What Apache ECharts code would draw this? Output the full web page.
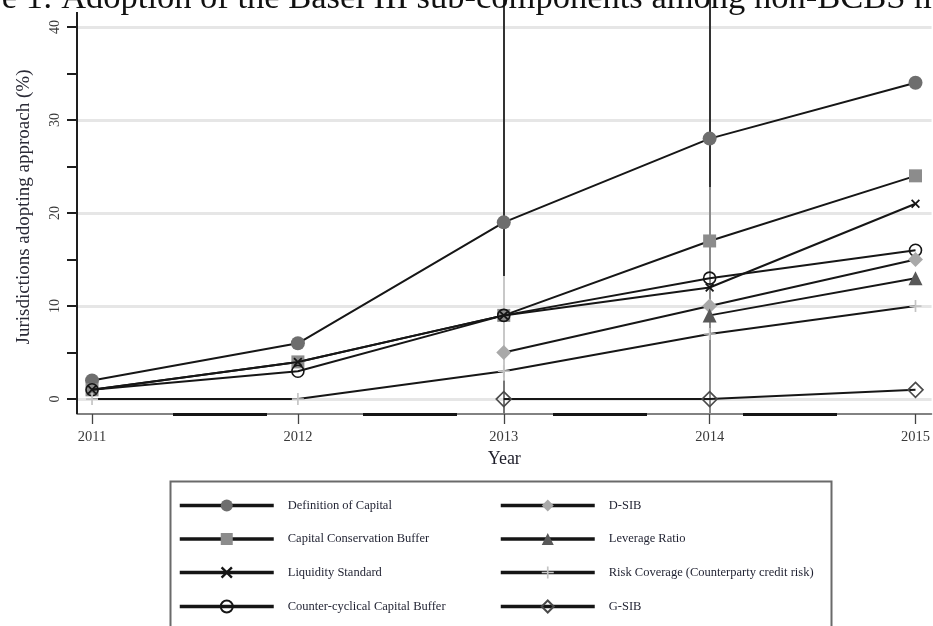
<!DOCTYPE html>
<html>
<head>
<meta charset="utf-8">
<style>html,body{margin:0;padding:0;background:#fff;}#chart{width:933px;height:626px;}</style>
<script src="https://cdn.jsdelivr.net/npm/echarts@6/dist/echarts.min.js"></script>
</head>
<body>
<div id="chart"></div>
<script>
// ---- data ----
const years = [2011, 2012, 2013, 2014, 2015];
const defCapital      = [2, 6, 19, 28, 34];
const capConsBuffer   = [1, 4, 9, 17, 24];
const liquidity       = [1, 4, 9, 12, 21];
const counterCyclical = [1, 3, 9, 13, 16];
const dSib            = [null, null, 5, 10, 15];
const leverage        = [null, null, null, 9, 13];
const riskCoverage    = [0, 0, 3, 7, 10];
const gSib            = [null, null, 0, 0, 1];
const yTickValues  = [0, 5, 10, 15, 20, 25, 30, 35, 40];
const yLabelValues = [0, 10, 20, 30, 40];
const gridValues   = [0, 10, 20, 30, 40];
const titleText = 'Figure 1: Adoption of the Basel III sub-components among non-BCBS members';
const xName = 'Year';
const yName = 'Jurisdictions adopting approach (%)';
// vertical scan-artifact lines in the source image: [year, fromValue, toValue, colour]
const artifactSegments = [
  [2013, 42.9, 13.2, '#333'], [2013, 13.2, 2, '#c8c8c8'], [2013, 2, -1.6, '#777'],
  [2014, 42.9, 22.8, '#333'], [2014, 22.8, -1.6, '#8a8a8a']
];

const X_MIN = 2010.927, X_MAX = 2015.078, Y_MIN = -1.6, Y_MAX = 42.9, Y_AXIS_TOP = 41.6;
const serif = 'Liberation Serif';

function pairs(vals) {
  const out = [];
  vals.forEach((v, i) => { if (v !== null) out.push([years[i], v]); });
  return out;
}

const PLUS = 'path://M4.3,0H5.7V4.3H10V5.7H5.7V10H4.3V5.7H0V4.3H4.3Z';
const CROSS = 'path://M0,1.4L1.4,0L5,3.6L8.6,0L10,1.4L6.4,5L10,8.6L8.6,10L5,6.4L1.4,10L0,8.6L3.6,5Z';

const seriesDefs = [
  {name: 'Definition of Capital', data: defCapital, symbol: 'circle', size: 14, item: {color: '#6e6e6e'}},
  {name: 'Capital Conservation Buffer', data: capConsBuffer, symbol: 'rect', size: 13, item: {color: '#8c8c8c'}},
  {name: 'Liquidity Standard', data: liquidity, symbol: CROSS, size: 9, item: {color: '#151515'}},
  {name: 'Counter-cyclical Capital Buffer', data: counterCyclical, symbol: 'circle', size: 12, item: {color: 'rgba(0,0,0,0)', borderColor: '#151515', borderWidth: 1.6}},
  {name: 'D-SIB', data: dSib, symbol: 'diamond', size: 15, item: {color: '#a9a9a9'}},
  {name: 'Leverage Ratio', data: leverage, symbol: 'triangle', size: 14, item: {color: '#585858'}},
  {name: 'Risk Coverage (Counterparty credit risk)', data: riskCoverage, symbol: PLUS, size: 12, item: {color: '#c4c4c4'}},
  {name: 'G-SIB', data: gSib, symbol: 'diamond', size: 15, item: {color: 'rgba(0,0,0,0)', borderColor: '#4a4a4a', borderWidth: 1.6}}
];

const noEmph = {disabled: true};
const series = [];

// background helper series: grid lines, artefacts, axis lines
series.push({
  type: 'line', data: [], silent: true, z: 1,
  markLine: {
    silent: true, symbol: ['none', 'none'], label: {show: false}, animation: false,
    lineStyle: {color: '#e6e6e6', width: 3, type: 'solid'},
    emphasis: noEmph,
    data: gridValues.map(v => ({yAxis: v}))
  }
});
series.push({
  type: 'line', data: [], silent: true, z: 2,
  markLine: {
    silent: true, symbol: ['none', 'none'], label: {show: false}, animation: false,
    emphasis: noEmph,
    data: artifactSegments.map(s => [
      {coord: [s[0], s[1]], lineStyle: {color: s[3], width: 2, type: 'solid'}},
      {coord: [s[0], s[2]]}
    ])
  }
});
series.push({
  type: 'line', data: [], silent: true, z: 20,
  markLine: {
    silent: true, symbol: ['none', 'none'], label: {show: false}, animation: false,
    emphasis: noEmph,
    data: [
      [{coord: [X_MIN, Y_AXIS_TOP], lineStyle: {color: '#1e1e1e', width: 2, type: 'solid'}}, {coord: [X_MIN, Y_MIN]}],
      [{coord: [X_MIN, Y_MIN], lineStyle: {color: '#151515', width: 3, type: [94, 96], dashOffset: 94}}, {coord: [X_MAX, Y_MIN]}]
    ]
  }
});

seriesDefs.forEach((d, i) => {
  series.push({
    name: d.name, type: 'line', data: pairs(d.data), z: 5 + i,
    symbol: d.symbol, symbolSize: d.size, showAllSymbol: true,
    lineStyle: {color: '#161616', width: 2},
    itemStyle: d.item,
    emphasis: noEmph, animation: false
  });
});

const legendCommon = {
  orient: 'vertical', itemWidth: 94, itemHeight: 15, itemGap: 20.5,
  lineStyle: {width: 3.5, color: '#151515'},
  textStyle: {fontFamily: serif, fontSize: 12.5, color: '#1e2030', padding: [0, 0, 0, 9]},
  selectedMode: false
};

const chart = echarts.init(document.getElementById('chart'), null, {renderer: 'canvas'});
chart.setOption({
  animation: false,
  backgroundColor: '#fff',
  title: {
    text: titleText, left: -78, top: -24,
    textStyle: {fontFamily: serif, fontSize: 34.5, fontWeight: 'normal', color: '#111'}
  },
  grid: {left: 77, right: 0, top: 0, bottom: 212, containLabel: false},
  xAxis: {
    type: 'value', min: X_MIN, max: X_MAX,
    name: xName, nameLocation: 'middle', nameGap: 31,
    nameTextStyle: {fontFamily: serif, fontSize: 18, color: '#1e1e2a'},
    axisLine: {show: true, onZero: false, lineStyle: {color: '#5a5a5a', width: 1.5}},
    axisTick: {show: true, length: 10, customValues: years, lineStyle: {color: '#444', width: 1.3}},
    axisLabel: {show: true, customValues: years, margin: 16, fontFamily: serif, fontSize: 14.5, color: '#3a3a3a', formatter: v => String(v)},
    splitLine: {show: false}
  },
  yAxis: {
    type: 'value', min: Y_MIN, max: Y_MAX,
    name: yName, nameLocation: 'middle', nameGap: 43,
    nameTextStyle: {fontFamily: serif, fontSize: 19, color: '#2a2a36'},
    axisLine: {show: false},
    axisTick: {show: true, length: 10, customValues: yTickValues, lineStyle: {color: '#1e1e1e', width: 2}},
    axisLabel: {show: true, customValues: yLabelValues, rotate: 90, margin: 15, fontFamily: serif, fontSize: 14, color: '#3a3a3a'},
    splitLine: {show: false}
  },
  legend: [
    Object.assign({}, legendCommon, {left: 173, top: 494, data: seriesDefs.slice(0, 4).map(d => d.name)}),
    Object.assign({}, legendCommon, {left: 494, top: 494, data: seriesDefs.slice(4).map(d => d.name)})
  ],
  graphic: [{
    type: 'rect', left: 168, top: 479, silent: true, z: 0,
    shape: {width: 661, height: 200},
    style: {fill: 'none', stroke: '#6a6a6a', lineWidth: 2}
  }],
  series: series
});
</script>
</body>
</html>
